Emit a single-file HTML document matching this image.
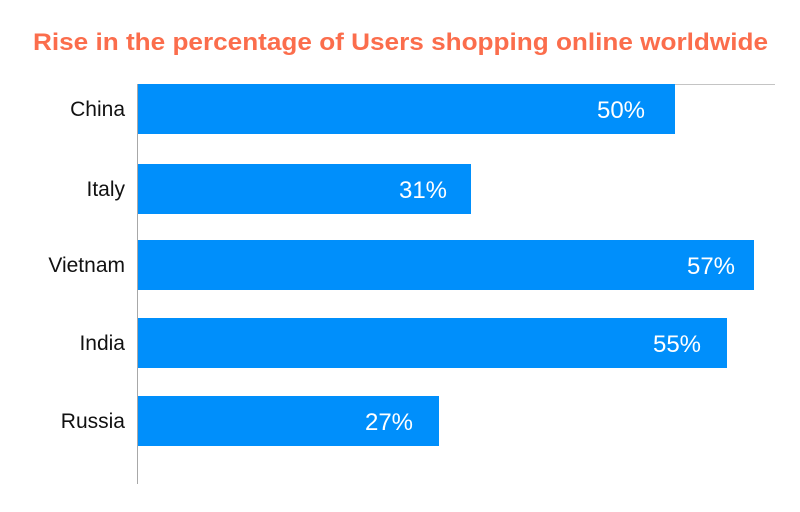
<!DOCTYPE html>
<html><head><style>
body{margin:0;background:#fff;width:800px;height:507px;overflow:hidden}
</style></head><body>
<svg width="800" height="507" xmlns="http://www.w3.org/2000/svg" font-family="Liberation Sans, sans-serif">
<text x="33" y="50" font-size="24" font-weight="bold" fill="#fb6d4c" textLength="735" lengthAdjust="spacingAndGlyphs">Rise in the percentage of Users shopping online worldwide</text>
<line x1="137" y1="84.5" x2="775" y2="84.5" stroke="#c4c4c4" stroke-width="1"/>
<line x1="137.5" y1="84" x2="137.5" y2="484" stroke="#a8a8a8" stroke-width="1"/>
<g fill="#008ffb">
<rect x="138" y="84" width="537" height="50"/>
<rect x="138" y="164" width="333" height="50"/>
<rect x="138" y="240" width="616" height="50"/>
<rect x="138" y="318" width="589" height="50"/>
<rect x="138" y="396" width="301" height="50"/>
</g>
<g fill="#fff" font-size="24" text-anchor="middle">
<text x="621" y="118">50%</text>
<text x="423" y="198">31%</text>
<text x="711" y="274">57%</text>
<text x="677" y="352">55%</text>
<text x="389" y="430">27%</text>
</g>
<g fill="#111" font-size="21" text-anchor="end">
<text x="125" y="116">China</text>
<text x="125" y="196">Italy</text>
<text x="125" y="272">Vietnam</text>
<text x="125" y="350">India</text>
<text x="125" y="428">Russia</text>
</g>
</svg>
</body></html>
